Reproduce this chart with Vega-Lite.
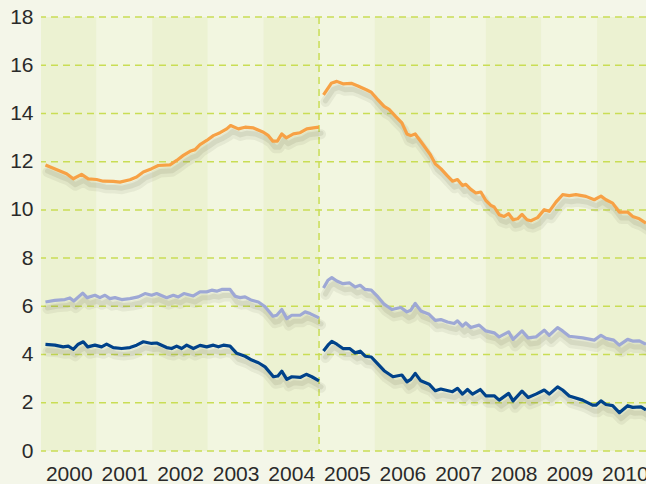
{
  "$schema": "https://vega.github.io/schema/vega-lite/v6.json",
  "width": 605,
  "height": 434,
  "autosize": {"type": "none"},
  "padding": {"left": 41, "top": 17, "right": 0, "bottom": 33},
  "background": "#f4f6e9",
  "config": {
    "view": {"stroke": null},
    "axis": {"labelFont": "Liberation Sans", "labelFontSize": 21, "labelColor": "#2a2a2a", "ticks": false, "domain": false, "grid": false, "title": null}
  },
  "datasets": {
    "lines": [
      {"series": "orange", "seg": 1, "t": 2000.08, "v": 11.86},
      {"series": "orange", "seg": 1, "t": 2000.34, "v": 11.61},
      {"series": "orange", "seg": 1, "t": 2000.46, "v": 11.50},
      {"series": "orange", "seg": 1, "t": 2000.58, "v": 11.29},
      {"series": "orange", "seg": 1, "t": 2000.73, "v": 11.47},
      {"series": "orange", "seg": 1, "t": 2000.85, "v": 11.29},
      {"series": "orange", "seg": 1, "t": 2001.00, "v": 11.26},
      {"series": "orange", "seg": 1, "t": 2001.12, "v": 11.19},
      {"series": "orange", "seg": 1, "t": 2001.30, "v": 11.18},
      {"series": "orange", "seg": 1, "t": 2001.42, "v": 11.15},
      {"series": "orange", "seg": 1, "t": 2001.60, "v": 11.25},
      {"series": "orange", "seg": 1, "t": 2001.72, "v": 11.36},
      {"series": "orange", "seg": 1, "t": 2001.84, "v": 11.57},
      {"series": "orange", "seg": 1, "t": 2001.99, "v": 11.71},
      {"series": "orange", "seg": 1, "t": 2002.11, "v": 11.84},
      {"series": "orange", "seg": 1, "t": 2002.32, "v": 11.87},
      {"series": "orange", "seg": 1, "t": 2002.44, "v": 12.05},
      {"series": "orange", "seg": 1, "t": 2002.56, "v": 12.26},
      {"series": "orange", "seg": 1, "t": 2002.68, "v": 12.43},
      {"series": "orange", "seg": 1, "t": 2002.77, "v": 12.50},
      {"series": "orange", "seg": 1, "t": 2002.86, "v": 12.71},
      {"series": "orange", "seg": 1, "t": 2002.98, "v": 12.88},
      {"series": "orange", "seg": 1, "t": 2003.10, "v": 13.08},
      {"series": "orange", "seg": 1, "t": 2003.22, "v": 13.20},
      {"series": "orange", "seg": 1, "t": 2003.34, "v": 13.36},
      {"series": "orange", "seg": 1, "t": 2003.41, "v": 13.50},
      {"series": "orange", "seg": 1, "t": 2003.55, "v": 13.36},
      {"series": "orange", "seg": 1, "t": 2003.67, "v": 13.43},
      {"series": "orange", "seg": 1, "t": 2003.82, "v": 13.40},
      {"series": "orange", "seg": 1, "t": 2004.00, "v": 13.22},
      {"series": "orange", "seg": 1, "t": 2004.09, "v": 13.08},
      {"series": "orange", "seg": 1, "t": 2004.17, "v": 12.85},
      {"series": "orange", "seg": 1, "t": 2004.25, "v": 12.85},
      {"series": "orange", "seg": 1, "t": 2004.33, "v": 13.15},
      {"series": "orange", "seg": 1, "t": 2004.41, "v": 12.99},
      {"series": "orange", "seg": 1, "t": 2004.54, "v": 13.15},
      {"series": "orange", "seg": 1, "t": 2004.66, "v": 13.20},
      {"series": "orange", "seg": 1, "t": 2004.78, "v": 13.36},
      {"series": "orange", "seg": 1, "t": 2004.90, "v": 13.40},
      {"series": "orange", "seg": 1, "t": 2005.00, "v": 13.43},
      {"series": "orange", "seg": 2, "t": 2005.08, "v": 14.77},
      {"series": "orange", "seg": 2, "t": 2005.22, "v": 15.25},
      {"series": "orange", "seg": 2, "t": 2005.32, "v": 15.33},
      {"series": "orange", "seg": 2, "t": 2005.43, "v": 15.23},
      {"series": "orange", "seg": 2, "t": 2005.58, "v": 15.25},
      {"series": "orange", "seg": 2, "t": 2005.70, "v": 15.14},
      {"series": "orange", "seg": 2, "t": 2005.85, "v": 14.98},
      {"series": "orange", "seg": 2, "t": 2005.94, "v": 14.88},
      {"series": "orange", "seg": 2, "t": 2006.06, "v": 14.56},
      {"series": "orange", "seg": 2, "t": 2006.17, "v": 14.29},
      {"series": "orange", "seg": 2, "t": 2006.26, "v": 14.17},
      {"series": "orange", "seg": 2, "t": 2006.38, "v": 13.87},
      {"series": "orange", "seg": 2, "t": 2006.49, "v": 13.61},
      {"series": "orange", "seg": 2, "t": 2006.58, "v": 13.15},
      {"series": "orange", "seg": 2, "t": 2006.65, "v": 13.08},
      {"series": "orange", "seg": 2, "t": 2006.73, "v": 13.15},
      {"series": "orange", "seg": 2, "t": 2006.87, "v": 12.71},
      {"series": "orange", "seg": 2, "t": 2007.00, "v": 12.30},
      {"series": "orange", "seg": 2, "t": 2007.09, "v": 11.91},
      {"series": "orange", "seg": 2, "t": 2007.19, "v": 11.71},
      {"series": "orange", "seg": 2, "t": 2007.30, "v": 11.43},
      {"series": "orange", "seg": 2, "t": 2007.40, "v": 11.19},
      {"series": "orange", "seg": 2, "t": 2007.49, "v": 11.26},
      {"series": "orange", "seg": 2, "t": 2007.58, "v": 11.01},
      {"series": "orange", "seg": 2, "t": 2007.64, "v": 11.06},
      {"series": "orange", "seg": 2, "t": 2007.73, "v": 10.85},
      {"series": "orange", "seg": 2, "t": 2007.82, "v": 10.70},
      {"series": "orange", "seg": 2, "t": 2007.91, "v": 10.74},
      {"series": "orange", "seg": 2, "t": 2008.00, "v": 10.39},
      {"series": "orange", "seg": 2, "t": 2008.09, "v": 10.19},
      {"series": "orange", "seg": 2, "t": 2008.15, "v": 10.12},
      {"series": "orange", "seg": 2, "t": 2008.24, "v": 9.80},
      {"series": "orange", "seg": 2, "t": 2008.33, "v": 9.73},
      {"series": "orange", "seg": 2, "t": 2008.41, "v": 9.84},
      {"series": "orange", "seg": 2, "t": 2008.49, "v": 9.59},
      {"series": "orange", "seg": 2, "t": 2008.57, "v": 9.63},
      {"series": "orange", "seg": 2, "t": 2008.65, "v": 9.81},
      {"series": "orange", "seg": 2, "t": 2008.74, "v": 9.59},
      {"series": "orange", "seg": 2, "t": 2008.81, "v": 9.55},
      {"series": "orange", "seg": 2, "t": 2008.93, "v": 9.68},
      {"series": "orange", "seg": 2, "t": 2009.05, "v": 10.01},
      {"series": "orange", "seg": 2, "t": 2009.14, "v": 9.94},
      {"series": "orange", "seg": 2, "t": 2009.26, "v": 10.32},
      {"series": "orange", "seg": 2, "t": 2009.38, "v": 10.63},
      {"series": "orange", "seg": 2, "t": 2009.50, "v": 10.59},
      {"series": "orange", "seg": 2, "t": 2009.62, "v": 10.63},
      {"series": "orange", "seg": 2, "t": 2009.80, "v": 10.56},
      {"series": "orange", "seg": 2, "t": 2009.95, "v": 10.42},
      {"series": "orange", "seg": 2, "t": 2010.07, "v": 10.57},
      {"series": "orange", "seg": 2, "t": 2010.16, "v": 10.42},
      {"series": "orange", "seg": 2, "t": 2010.28, "v": 10.28},
      {"series": "orange", "seg": 2, "t": 2010.40, "v": 9.91},
      {"series": "orange", "seg": 2, "t": 2010.55, "v": 9.91},
      {"series": "orange", "seg": 2, "t": 2010.64, "v": 9.73},
      {"series": "orange", "seg": 2, "t": 2010.76, "v": 9.63},
      {"series": "orange", "seg": 2, "t": 2010.88, "v": 9.45},

      {"series": "purple", "seg": 1, "t": 2000.08, "v": 6.18},
      {"series": "purple", "seg": 1, "t": 2000.25, "v": 6.25},
      {"series": "purple", "seg": 1, "t": 2000.43, "v": 6.28},
      {"series": "purple", "seg": 1, "t": 2000.52, "v": 6.35},
      {"series": "purple", "seg": 1, "t": 2000.59, "v": 6.22},
      {"series": "purple", "seg": 1, "t": 2000.75, "v": 6.55},
      {"series": "purple", "seg": 1, "t": 2000.83, "v": 6.36},
      {"series": "purple", "seg": 1, "t": 2000.97, "v": 6.46},
      {"series": "purple", "seg": 1, "t": 2001.06, "v": 6.36},
      {"series": "purple", "seg": 1, "t": 2001.15, "v": 6.46},
      {"series": "purple", "seg": 1, "t": 2001.24, "v": 6.32},
      {"series": "purple", "seg": 1, "t": 2001.33, "v": 6.36},
      {"series": "purple", "seg": 1, "t": 2001.45, "v": 6.28},
      {"series": "purple", "seg": 1, "t": 2001.60, "v": 6.32},
      {"series": "purple", "seg": 1, "t": 2001.75, "v": 6.39},
      {"series": "purple", "seg": 1, "t": 2001.87, "v": 6.53},
      {"series": "purple", "seg": 1, "t": 2001.99, "v": 6.46},
      {"series": "purple", "seg": 1, "t": 2002.08, "v": 6.53},
      {"series": "purple", "seg": 1, "t": 2002.26, "v": 6.36},
      {"series": "purple", "seg": 1, "t": 2002.38, "v": 6.46},
      {"series": "purple", "seg": 1, "t": 2002.47, "v": 6.39},
      {"series": "purple", "seg": 1, "t": 2002.57, "v": 6.53},
      {"series": "purple", "seg": 1, "t": 2002.74, "v": 6.43},
      {"series": "purple", "seg": 1, "t": 2002.86, "v": 6.60},
      {"series": "purple", "seg": 1, "t": 2002.98, "v": 6.60},
      {"series": "purple", "seg": 1, "t": 2003.07, "v": 6.67},
      {"series": "purple", "seg": 1, "t": 2003.16, "v": 6.63},
      {"series": "purple", "seg": 1, "t": 2003.25, "v": 6.70},
      {"series": "purple", "seg": 1, "t": 2003.40, "v": 6.70},
      {"series": "purple", "seg": 1, "t": 2003.49, "v": 6.42},
      {"series": "purple", "seg": 1, "t": 2003.58, "v": 6.36},
      {"series": "purple", "seg": 1, "t": 2003.67, "v": 6.39},
      {"series": "purple", "seg": 1, "t": 2003.79, "v": 6.25},
      {"series": "purple", "seg": 1, "t": 2003.91, "v": 6.18},
      {"series": "purple", "seg": 1, "t": 2004.03, "v": 5.98},
      {"series": "purple", "seg": 1, "t": 2004.17, "v": 5.59},
      {"series": "purple", "seg": 1, "t": 2004.24, "v": 5.63},
      {"series": "purple", "seg": 1, "t": 2004.33, "v": 5.87},
      {"series": "purple", "seg": 1, "t": 2004.42, "v": 5.49},
      {"series": "purple", "seg": 1, "t": 2004.51, "v": 5.63},
      {"series": "purple", "seg": 1, "t": 2004.66, "v": 5.63},
      {"series": "purple", "seg": 1, "t": 2004.75, "v": 5.77},
      {"series": "purple", "seg": 1, "t": 2004.84, "v": 5.70},
      {"series": "purple", "seg": 1, "t": 2005.00, "v": 5.52},
      {"series": "purple", "seg": 2, "t": 2005.08, "v": 6.76},
      {"series": "purple", "seg": 2, "t": 2005.16, "v": 7.08},
      {"series": "purple", "seg": 2, "t": 2005.23, "v": 7.19},
      {"series": "purple", "seg": 2, "t": 2005.32, "v": 7.05},
      {"series": "purple", "seg": 2, "t": 2005.43, "v": 6.94},
      {"series": "purple", "seg": 2, "t": 2005.55, "v": 6.97},
      {"series": "purple", "seg": 2, "t": 2005.65, "v": 6.80},
      {"series": "purple", "seg": 2, "t": 2005.74, "v": 6.87},
      {"series": "purple", "seg": 2, "t": 2005.83, "v": 6.70},
      {"series": "purple", "seg": 2, "t": 2005.94, "v": 6.67},
      {"series": "purple", "seg": 2, "t": 2006.06, "v": 6.39},
      {"series": "purple", "seg": 2, "t": 2006.17, "v": 6.09},
      {"series": "purple", "seg": 2, "t": 2006.31, "v": 5.87},
      {"series": "purple", "seg": 2, "t": 2006.47, "v": 5.95},
      {"series": "purple", "seg": 2, "t": 2006.58, "v": 5.77},
      {"series": "purple", "seg": 2, "t": 2006.65, "v": 5.84},
      {"series": "purple", "seg": 2, "t": 2006.73, "v": 6.12},
      {"series": "purple", "seg": 2, "t": 2006.83, "v": 5.81},
      {"series": "purple", "seg": 2, "t": 2006.98, "v": 5.67},
      {"series": "purple", "seg": 2, "t": 2007.09, "v": 5.42},
      {"series": "purple", "seg": 2, "t": 2007.19, "v": 5.45},
      {"series": "purple", "seg": 2, "t": 2007.31, "v": 5.35},
      {"series": "purple", "seg": 2, "t": 2007.43, "v": 5.29},
      {"series": "purple", "seg": 2, "t": 2007.49, "v": 5.40},
      {"series": "purple", "seg": 2, "t": 2007.58, "v": 5.18},
      {"series": "purple", "seg": 2, "t": 2007.64, "v": 5.31},
      {"series": "purple", "seg": 2, "t": 2007.73, "v": 5.12},
      {"series": "purple", "seg": 2, "t": 2007.88, "v": 5.22},
      {"series": "purple", "seg": 2, "t": 2008.00, "v": 4.98},
      {"series": "purple", "seg": 2, "t": 2008.15, "v": 4.90},
      {"series": "purple", "seg": 2, "t": 2008.24, "v": 4.73},
      {"series": "purple", "seg": 2, "t": 2008.41, "v": 4.94},
      {"series": "purple", "seg": 2, "t": 2008.49, "v": 4.63},
      {"series": "purple", "seg": 2, "t": 2008.65, "v": 4.98},
      {"series": "purple", "seg": 2, "t": 2008.76, "v": 4.69},
      {"series": "purple", "seg": 2, "t": 2008.90, "v": 4.73},
      {"series": "purple", "seg": 2, "t": 2009.05, "v": 5.01},
      {"series": "purple", "seg": 2, "t": 2009.14, "v": 4.80},
      {"series": "purple", "seg": 2, "t": 2009.29, "v": 5.12},
      {"series": "purple", "seg": 2, "t": 2009.38, "v": 4.98},
      {"series": "purple", "seg": 2, "t": 2009.50, "v": 4.76},
      {"series": "purple", "seg": 2, "t": 2009.74, "v": 4.69},
      {"series": "purple", "seg": 2, "t": 2009.95, "v": 4.60},
      {"series": "purple", "seg": 2, "t": 2010.07, "v": 4.80},
      {"series": "purple", "seg": 2, "t": 2010.16, "v": 4.67},
      {"series": "purple", "seg": 2, "t": 2010.30, "v": 4.60},
      {"series": "purple", "seg": 2, "t": 2010.40, "v": 4.39},
      {"series": "purple", "seg": 2, "t": 2010.55, "v": 4.63},
      {"series": "purple", "seg": 2, "t": 2010.64, "v": 4.56},
      {"series": "purple", "seg": 2, "t": 2010.76, "v": 4.57},
      {"series": "purple", "seg": 2, "t": 2010.88, "v": 4.42},

      {"series": "navy", "seg": 1, "t": 2000.08, "v": 4.42},
      {"series": "navy", "seg": 1, "t": 2000.25, "v": 4.39},
      {"series": "navy", "seg": 1, "t": 2000.40, "v": 4.32},
      {"series": "navy", "seg": 1, "t": 2000.49, "v": 4.35},
      {"series": "navy", "seg": 1, "t": 2000.58, "v": 4.22},
      {"series": "navy", "seg": 1, "t": 2000.67, "v": 4.43},
      {"series": "navy", "seg": 1, "t": 2000.76, "v": 4.53},
      {"series": "navy", "seg": 1, "t": 2000.84, "v": 4.32},
      {"series": "navy", "seg": 1, "t": 2000.97, "v": 4.39},
      {"series": "navy", "seg": 1, "t": 2001.09, "v": 4.32},
      {"series": "navy", "seg": 1, "t": 2001.18, "v": 4.43},
      {"series": "navy", "seg": 1, "t": 2001.30, "v": 4.29},
      {"series": "navy", "seg": 1, "t": 2001.45, "v": 4.25},
      {"series": "navy", "seg": 1, "t": 2001.60, "v": 4.29},
      {"series": "navy", "seg": 1, "t": 2001.72, "v": 4.39},
      {"series": "navy", "seg": 1, "t": 2001.84, "v": 4.53},
      {"series": "navy", "seg": 1, "t": 2001.99, "v": 4.46},
      {"series": "navy", "seg": 1, "t": 2002.08, "v": 4.48},
      {"series": "navy", "seg": 1, "t": 2002.26, "v": 4.29},
      {"series": "navy", "seg": 1, "t": 2002.35, "v": 4.25},
      {"series": "navy", "seg": 1, "t": 2002.44, "v": 4.35},
      {"series": "navy", "seg": 1, "t": 2002.53, "v": 4.25},
      {"series": "navy", "seg": 1, "t": 2002.62, "v": 4.39},
      {"series": "navy", "seg": 1, "t": 2002.74, "v": 4.25},
      {"series": "navy", "seg": 1, "t": 2002.86, "v": 4.38},
      {"series": "navy", "seg": 1, "t": 2002.98, "v": 4.32},
      {"series": "navy", "seg": 1, "t": 2003.10, "v": 4.39},
      {"series": "navy", "seg": 1, "t": 2003.19, "v": 4.32},
      {"series": "navy", "seg": 1, "t": 2003.28, "v": 4.39},
      {"series": "navy", "seg": 1, "t": 2003.40, "v": 4.35},
      {"series": "navy", "seg": 1, "t": 2003.52, "v": 4.05},
      {"series": "navy", "seg": 1, "t": 2003.67, "v": 3.93},
      {"series": "navy", "seg": 1, "t": 2003.79, "v": 3.77},
      {"series": "navy", "seg": 1, "t": 2003.91, "v": 3.66},
      {"series": "navy", "seg": 1, "t": 2004.03, "v": 3.49},
      {"series": "navy", "seg": 1, "t": 2004.18, "v": 3.08},
      {"series": "navy", "seg": 1, "t": 2004.26, "v": 3.11},
      {"series": "navy", "seg": 1, "t": 2004.33, "v": 3.31},
      {"series": "navy", "seg": 1, "t": 2004.42, "v": 2.97},
      {"series": "navy", "seg": 1, "t": 2004.51, "v": 3.08},
      {"series": "navy", "seg": 1, "t": 2004.66, "v": 3.05},
      {"series": "navy", "seg": 1, "t": 2004.77, "v": 3.18},
      {"series": "navy", "seg": 1, "t": 2004.87, "v": 3.08},
      {"series": "navy", "seg": 1, "t": 2005.00, "v": 2.91},
      {"series": "navy", "seg": 2, "t": 2005.08, "v": 4.15},
      {"series": "navy", "seg": 2, "t": 2005.16, "v": 4.39},
      {"series": "navy", "seg": 2, "t": 2005.23, "v": 4.55},
      {"series": "navy", "seg": 2, "t": 2005.32, "v": 4.43},
      {"series": "navy", "seg": 2, "t": 2005.43, "v": 4.25},
      {"series": "navy", "seg": 2, "t": 2005.55, "v": 4.25},
      {"series": "navy", "seg": 2, "t": 2005.65, "v": 4.07},
      {"series": "navy", "seg": 2, "t": 2005.74, "v": 4.14},
      {"series": "navy", "seg": 2, "t": 2005.83, "v": 3.93},
      {"series": "navy", "seg": 2, "t": 2005.94, "v": 3.90},
      {"series": "navy", "seg": 2, "t": 2006.06, "v": 3.60},
      {"series": "navy", "seg": 2, "t": 2006.17, "v": 3.33},
      {"series": "navy", "seg": 2, "t": 2006.33, "v": 3.08},
      {"series": "navy", "seg": 2, "t": 2006.49, "v": 3.15},
      {"series": "navy", "seg": 2, "t": 2006.58, "v": 2.87},
      {"series": "navy", "seg": 2, "t": 2006.65, "v": 2.97},
      {"series": "navy", "seg": 2, "t": 2006.73, "v": 3.22},
      {"series": "navy", "seg": 2, "t": 2006.83, "v": 2.91},
      {"series": "navy", "seg": 2, "t": 2006.98, "v": 2.77},
      {"series": "navy", "seg": 2, "t": 2007.09, "v": 2.50},
      {"series": "navy", "seg": 2, "t": 2007.19, "v": 2.57},
      {"series": "navy", "seg": 2, "t": 2007.40, "v": 2.46},
      {"series": "navy", "seg": 2, "t": 2007.49, "v": 2.60},
      {"series": "navy", "seg": 2, "t": 2007.58, "v": 2.36},
      {"series": "navy", "seg": 2, "t": 2007.67, "v": 2.55},
      {"series": "navy", "seg": 2, "t": 2007.76, "v": 2.36},
      {"series": "navy", "seg": 2, "t": 2007.90, "v": 2.55},
      {"series": "navy", "seg": 2, "t": 2008.00, "v": 2.29},
      {"series": "navy", "seg": 2, "t": 2008.15, "v": 2.29},
      {"series": "navy", "seg": 2, "t": 2008.24, "v": 2.11},
      {"series": "navy", "seg": 2, "t": 2008.41, "v": 2.39},
      {"series": "navy", "seg": 2, "t": 2008.49, "v": 2.08},
      {"series": "navy", "seg": 2, "t": 2008.65, "v": 2.48},
      {"series": "navy", "seg": 2, "t": 2008.76, "v": 2.22},
      {"series": "navy", "seg": 2, "t": 2008.90, "v": 2.36},
      {"series": "navy", "seg": 2, "t": 2009.05, "v": 2.53},
      {"series": "navy", "seg": 2, "t": 2009.14, "v": 2.36},
      {"series": "navy", "seg": 2, "t": 2009.29, "v": 2.66},
      {"series": "navy", "seg": 2, "t": 2009.38, "v": 2.53},
      {"series": "navy", "seg": 2, "t": 2009.50, "v": 2.28},
      {"series": "navy", "seg": 2, "t": 2009.74, "v": 2.11},
      {"series": "navy", "seg": 2, "t": 2009.92, "v": 1.90},
      {"series": "navy", "seg": 2, "t": 2009.98, "v": 1.90},
      {"series": "navy", "seg": 2, "t": 2010.07, "v": 2.08},
      {"series": "navy", "seg": 2, "t": 2010.16, "v": 1.93},
      {"series": "navy", "seg": 2, "t": 2010.28, "v": 1.88},
      {"series": "navy", "seg": 2, "t": 2010.40, "v": 1.59},
      {"series": "navy", "seg": 2, "t": 2010.55, "v": 1.88},
      {"series": "navy", "seg": 2, "t": 2010.64, "v": 1.81},
      {"series": "navy", "seg": 2, "t": 2010.79, "v": 1.83},
      {"series": "navy", "seg": 2, "t": 2010.88, "v": 1.70}
    ]
  },
  "layer": [
    {
      "data": {"values": [
        {"year": 2000, "end": 2001, "band": "dark"},
        {"year": 2001, "end": 2002, "band": "light"},
        {"year": 2002, "end": 2003, "band": "dark"},
        {"year": 2003, "end": 2004, "band": "light"},
        {"year": 2004, "end": 2005, "band": "dark"},
        {"year": 2005, "end": 2006, "band": "light"},
        {"year": 2006, "end": 2007, "band": "dark"},
        {"year": 2007, "end": 2008, "band": "light"},
        {"year": 2008, "end": 2009, "band": "dark"},
        {"year": 2009, "end": 2010, "band": "light"},
        {"year": 2010, "end": 2011, "band": "dark"}
      ]},
      "mark": {"type": "rect", "clip": true},
      "encoding": {
        "x": {"field": "year", "type": "quantitative",
              "scale": {"domain": [2000, 2010.88], "nice": false, "zero": false},
              "axis": {"values": [2000.5, 2001.5, 2002.5, 2003.5, 2004.5, 2005.5, 2006.5, 2007.5, 2008.5, 2009.5, 2010.5],
                       "labelExpr": "floor(datum.value)", "labelPadding": 12, "labelFlush": false, "labelOverlap": false}},
        "x2": {"field": "end"},
        "fill": {"field": "band", "type": "nominal",
                 "scale": {"domain": ["dark", "light"], "range": ["#ecf2d2", "#f2f6e0"]}, "legend": null}
      }
    },
    {
      "data": {"values": [{"g": 0}, {"g": 2}, {"g": 4}, {"g": 6}, {"g": 8}, {"g": 10}, {"g": 12}, {"g": 14}, {"g": 16}, {"g": 18}]},
      "mark": {"type": "rule", "stroke": "#c9dd55", "strokeWidth": 1.5, "strokeDash": [7, 5]},
      "encoding": {
        "y": {"field": "g", "type": "quantitative",
              "scale": {"domain": [0, 18], "nice": false},
              "axis": {"values": [0, 2, 4, 6, 8, 10, 12, 14, 16, 18], "labelPadding": 8}}
      }
    },
    {
      "data": {"values": [{"b": 2005}]},
      "mark": {"type": "rule", "stroke": "#c9dd55", "strokeWidth": 1.5, "strokeDash": [7, 5]},
      "encoding": {"x": {"field": "b", "type": "quantitative"}}
    },
    {
      "data": {"name": "lines"},
      "mark": {"type": "line", "stroke": "#4a4a30", "strokeWidth": 10, "opacity": 0.07, "xOffset": 2, "yOffset": 7, "strokeCap": "round", "strokeJoin": "round"},
      "encoding": {
        "x": {"field": "t", "type": "quantitative"},
        "y": {"field": "v", "type": "quantitative"},
        "detail": [{"field": "series"}, {"field": "seg"}]
      }
    },
    {
      "data": {"name": "lines"},
      "mark": {"type": "line", "stroke": "#4a4a30", "strokeWidth": 5, "opacity": 0.1, "xOffset": 2, "yOffset": 6, "strokeCap": "round", "strokeJoin": "round"},
      "encoding": {
        "x": {"field": "t", "type": "quantitative"},
        "y": {"field": "v", "type": "quantitative"},
        "detail": [{"field": "series"}, {"field": "seg"}]
      }
    },
    {
      "data": {"name": "lines"},
      "mark": {"type": "line", "strokeWidth": 3.2, "strokeJoin": "round"},
      "encoding": {
        "x": {"field": "t", "type": "quantitative"},
        "y": {"field": "v", "type": "quantitative"},
        "detail": {"field": "seg"},
        "stroke": {"field": "series", "type": "nominal",
                   "scale": {"domain": ["orange", "purple", "navy"], "range": ["#f7a145", "#9ea8d5", "#00428a"]}, "legend": null}
      }
    }
  ]
}
